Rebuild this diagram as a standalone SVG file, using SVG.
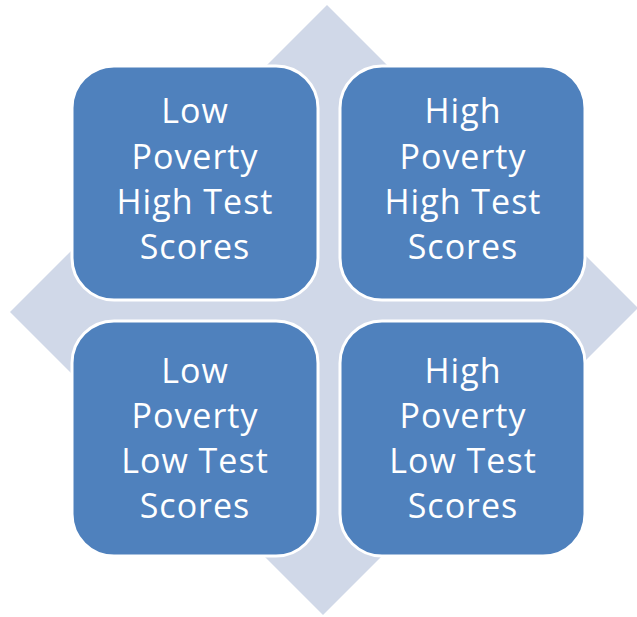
<svg xmlns="http://www.w3.org/2000/svg" width="637" height="617" viewBox="0 0 637 617">
<style>
.box{fill:#4F81BD;stroke:#FFFFFF;stroke-width:3}
.lbl{font-family:"Open Sans","Liberation Sans",sans-serif;font-size:34px;letter-spacing:1px;fill:#FFFFFF;text-anchor:middle}
</style>
<rect width="637" height="617" fill="#FFFFFF"/>
<g id="background-arrows">
<polygon fill="#D0D8E8" points="327,5 397,75 386,75 386,245 568,245 568,238 638,308 568,378 568,372 386,372 386,545 393,545 323,615 253,545 264,545 264,372 80,372 80,382 10,312 80,242 80,245 264,245 264,75 257,75"/>
</g>
<g id="connectors"></g>
<g id="node-tl">
<rect class="box" x="72" y="66" width="246" height="234" rx="42"/>
<text class="lbl"><tspan x="195" y="123">Low</tspan><tspan x="195" y="169">Poverty</tspan><tspan x="195" y="214">High Test</tspan><tspan x="195" y="259">Scores</tspan></text>
</g>
<g id="node-tr">
<rect class="box" x="340" y="66" width="245" height="234" rx="42"/>
<text class="lbl"><tspan x="463" y="123">High</tspan><tspan x="463" y="169">Poverty</tspan><tspan x="463" y="214">High Test</tspan><tspan x="463" y="259">Scores</tspan></text>
</g>
<g id="node-bl">
<rect class="box" x="72" y="321" width="246" height="235" rx="42"/>
<text class="lbl"><tspan x="195" y="383">Low</tspan><tspan x="195" y="428">Poverty</tspan><tspan x="195" y="473">Low Test</tspan><tspan x="195" y="518">Scores</tspan></text>
</g>
<g id="node-br">
<rect class="box" x="340" y="321" width="245" height="235" rx="42"/>
<text class="lbl"><tspan x="463" y="383">High</tspan><tspan x="463" y="428">Poverty</tspan><tspan x="463" y="473">Low Test</tspan><tspan x="463" y="518">Scores</tspan></text>
</g>
</svg>
